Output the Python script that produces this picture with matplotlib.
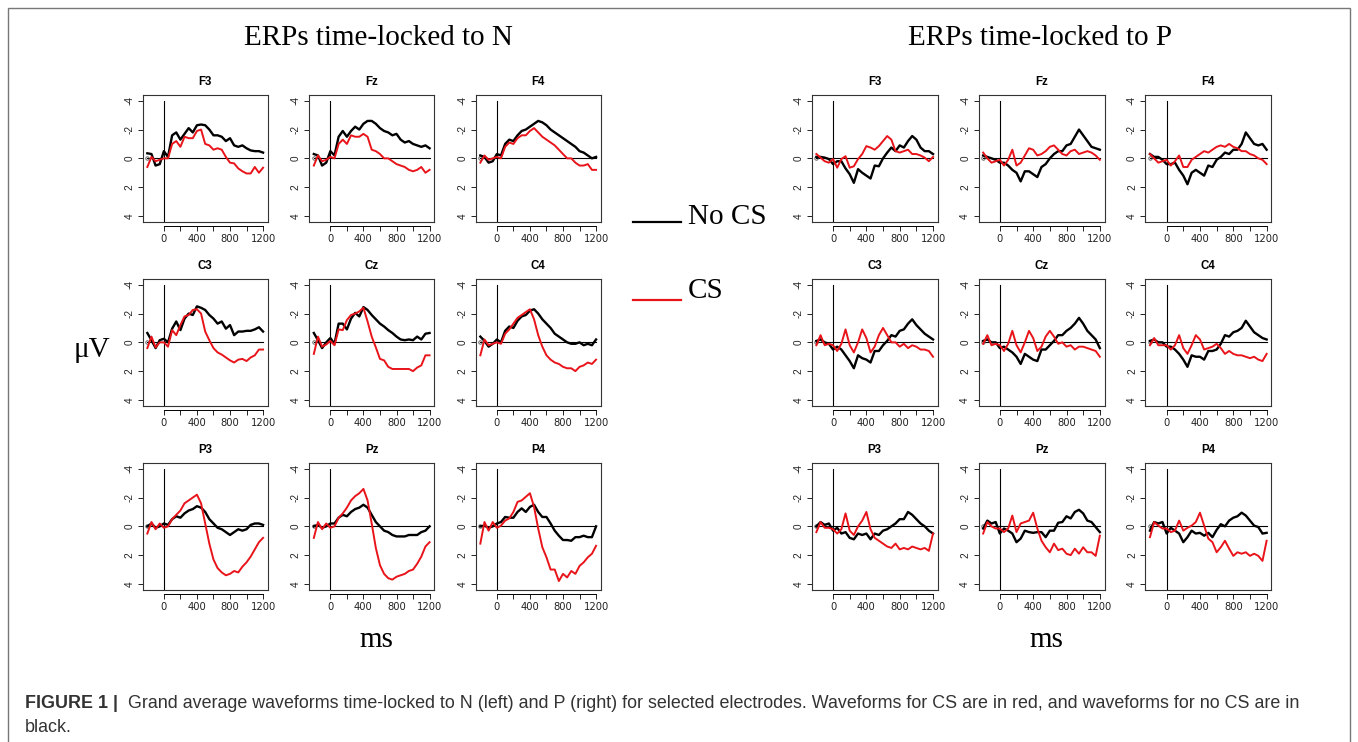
import matplotlib
matplotlib.use("Agg")
import matplotlib.pyplot as plt
from matplotlib.patches import Rectangle

W, H = 1358, 742

# time points (ms)
t_ms = [-200, -150, -100, -50, 0, 50, 100, 150, 200, 250, 300, 350, 400, 450, 500,
        550, 600, 650, 700, 750, 800, 850, 900, 950, 1000, 1050, 1100, 1150, 1200]

# ---- ERPs time-locked to N (uV, negative up) ----
n_f3_nocs = [-0.35, -0.3, 0.5, 0.4, -0.5, -0.1, -1.6, -1.8, -1.3, -1.7, -2.1, -1.8, -2.3, -2.35, -2.3, -2.0, -1.6, -1.6, -1.5, -1.2, -1.4, -0.9, -0.8, -0.9, -0.7, -0.55, -0.5, -0.5, -0.4]
n_f3_cs = [0.6, -0.1, 0.2, 0.1, 0.0, 0.0, -1.0, -1.2, -0.8, -1.5, -1.4, -1.4, -1.9, -2.0, -1.0, -0.9, -0.6, -0.7, -0.6, -0.1, 0.3, 0.35, 0.7, 0.9, 1.05, 1.05, 0.6, 1.0, 0.65]
n_fz_nocs = [-0.3, -0.2, 0.5, 0.3, -0.5, -0.2, -1.5, -1.9, -1.5, -1.9, -2.2, -2.0, -2.4, -2.6, -2.6, -2.4, -2.1, -1.9, -1.8, -1.6, -1.7, -1.3, -1.1, -1.2, -1.0, -0.9, -0.8, -0.9, -0.7]
n_fz_cs = [0.5, -0.2, 0.2, 0.1, -0.1, 0.0, -1.0, -1.3, -1.0, -1.6, -1.5, -1.5, -1.7, -1.5, -0.6, -0.5, -0.3, 0.0, 0.0, 0.2, 0.4, 0.5, 0.6, 0.8, 0.9, 0.8, 0.6, 1.0, 0.8]
n_f4_nocs = [-0.2, -0.1, 0.3, 0.2, -0.3, -0.2, -1.0, -1.3, -1.2, -1.6, -1.9, -2.0, -2.2, -2.4, -2.6, -2.5, -2.3, -2.0, -1.8, -1.6, -1.4, -1.2, -1.0, -0.8, -0.5, -0.4, -0.2, 0.0, -0.1]
n_f4_cs = [0.3, -0.2, 0.1, 0.0, -0.1, 0.0, -0.8, -1.1, -1.0, -1.4, -1.6, -1.6, -1.9, -2.1, -1.8, -1.5, -1.3, -1.1, -0.9, -0.6, -0.3, 0.0, 0.0, 0.3, 0.5, 0.5, 0.4, 0.8, 0.8]
n_c3_nocs = [-0.65, -0.15, 0.4, -0.15, -0.25, 0.0, -0.95, -1.45, -0.85, -1.65, -2.0, -1.9, -2.5, -2.4, -2.25, -1.9, -1.65, -1.3, -1.45, -0.95, -1.2, -0.5, -0.75, -0.75, -0.8, -0.8, -0.9, -1.05, -0.75]
n_c3_cs = [0.4, -0.4, 0.35, 0.0, 0.0, 0.3, -0.85, -0.5, -1.2, -1.8, -1.9, -2.25, -2.3, -2.0, -0.75, -0.15, 0.4, 0.7, 0.85, 1.05, 1.25, 1.4, 1.2, 1.15, 1.3, 1.05, 0.9, 0.5, 0.5]
n_cz_nocs = [-0.65, -0.15, 0.4, 0.0, -0.3, 0.1, -1.3, -1.3, -0.9, -1.65, -2.05, -1.8, -2.45, -2.25, -1.9, -1.6, -1.3, -1.1, -0.85, -0.65, -0.4, -0.2, -0.15, -0.2, -0.15, -0.4, -0.2, -0.6, -0.65]
n_cz_cs = [0.8, -0.4, 0.3, 0.15, -0.1, 0.2, -0.9, -0.85, -1.55, -1.9, -2.0, -2.15, -2.4, -1.45, -0.4, 0.35, 1.15, 1.25, 1.7, 1.85, 1.85, 1.85, 1.85, 1.85, 2.0, 1.75, 1.6, 0.9, 0.9]
n_c4_nocs = [-0.4, -0.1, 0.3, 0.1, -0.2, 0.0, -0.8, -1.1, -1.0, -1.5, -1.8, -1.9, -2.2, -2.3, -2.0, -1.6, -1.3, -1.0, -0.6, -0.4, -0.2, 0.0, 0.1, 0.1, 0.0, 0.2, 0.1, 0.2, -0.2]
n_c4_cs = [0.9, -0.2, 0.2, 0.1, 0.0, 0.1, -0.6, -0.9, -1.3, -1.7, -1.9, -2.1, -2.3, -1.6, -0.5, 0.3, 0.9, 1.2, 1.4, 1.5, 1.7, 1.8, 1.8, 2.0, 1.7, 1.6, 1.4, 1.5, 1.2]
n_p3_nocs = [0.0, -0.2, 0.1, 0.0, -0.2, -0.1, -0.5, -0.7, -0.6, -0.9, -1.1, -1.2, -1.4, -1.3, -1.0, -0.5, -0.2, 0.1, 0.2, 0.4, 0.6, 0.4, 0.2, 0.3, 0.2, -0.1, -0.2, -0.2, -0.1]
n_p3_cs = [0.5, -0.3, 0.2, -0.2, 0.1, 0.0, -0.5, -0.8, -1.1, -1.6, -1.8, -2.0, -2.2, -1.6, -0.2, 1.2, 2.3, 2.9, 3.2, 3.4, 3.3, 3.1, 3.2, 2.8, 2.5, 2.1, 1.6, 1.1, 0.8]
n_pz_nocs = [0.0, -0.1, 0.1, 0.0, -0.2, -0.2, -0.6, -0.8, -0.7, -1.0, -1.2, -1.3, -1.5, -1.3, -0.8, -0.3, 0.0, 0.3, 0.4, 0.6, 0.7, 0.7, 0.7, 0.6, 0.6, 0.6, 0.4, 0.3, 0.0]
n_pz_cs = [0.8, -0.3, 0.2, -0.2, 0.1, 0.0, -0.6, -0.9, -1.3, -1.8, -2.1, -2.3, -2.6, -1.8, -0.2, 1.5, 2.7, 3.3, 3.6, 3.7, 3.5, 3.4, 3.3, 3.1, 3.0, 2.6, 2.1, 1.4, 1.1]
n_p4_nocs = [0.0, -0.05, 0.1, 0.0, -0.2, -0.3, -0.65, -0.6, -0.6, -1.0, -1.25, -1.0, -1.35, -1.5, -1.0, -0.65, -0.65, -0.2, 0.3, 0.65, 0.95, 0.95, 1.0, 0.75, 0.75, 0.65, 0.75, 0.75, 0.0]
n_p4_cs = [1.2, -0.3, 0.3, -0.3, 0.1, -0.05, -0.4, -0.55, -1.0, -1.7, -1.8, -2.05, -2.3, -1.35, 0.15, 1.45, 2.15, 3.0, 3.0, 3.8, 3.3, 3.55, 3.1, 3.3, 2.75, 2.5, 2.15, 1.9, 1.35]

# ---- ERPs time-locked to P ----
p_f3_nocs = [-0.1, -0.1, -0.05, 0.05, 0.4, 0.2, 0.2, 0.7, 1.1, 1.7, 0.75, 1.0, 1.2, 1.4, 0.5, 0.55, 0.0, -0.4, -0.75, -0.5, -0.9, -0.75, -1.2, -1.55, -1.3, -0.75, -0.5, -0.5, -0.3]
p_f3_cs = [-0.3, -0.05, 0.2, 0.3, 0.05, 0.65, 0.05, -0.15, 0.65, 0.55, 0.05, -0.3, -0.85, -0.75, -0.6, -0.85, -1.2, -1.55, -1.3, -0.5, -0.4, -0.5, -0.6, -0.3, -0.3, -0.2, -0.05, 0.2, -0.1]
p_fz_nocs = [-0.2, -0.1, 0.0, 0.1, 0.3, 0.3, 0.5, 0.8, 1.0, 1.6, 0.9, 0.9, 1.1, 1.3, 0.6, 0.4, 0.0, -0.3, -0.5, -0.5, -0.9, -1.0, -1.5, -2.0, -1.6, -1.2, -0.8, -0.7, -0.6]
p_fz_cs = [-0.4, 0.0, 0.3, 0.2, 0.1, 0.5, 0.1, -0.6, 0.5, 0.3, -0.2, -0.7, -0.6, -0.2, -0.3, -0.5, -0.8, -0.9, -0.6, -0.3, -0.2, -0.5, -0.6, -0.3, -0.4, -0.5, -0.4, -0.2, 0.1]
p_f4_nocs = [-0.3, -0.1, -0.1, 0.1, 0.4, 0.4, 0.3, 0.8, 1.2, 1.8, 1.0, 0.8, 1.0, 1.2, 0.5, 0.6, 0.1, -0.1, -0.4, -0.3, -0.6, -0.6, -1.0, -1.8, -1.4, -1.0, -0.9, -1.0, -0.6]
p_f4_cs = [-0.3, 0.0, 0.3, 0.2, 0.1, 0.5, 0.2, -0.2, 0.6, 0.6, 0.1, -0.1, -0.3, -0.5, -0.4, -0.6, -0.8, -0.9, -0.8, -1.0, -0.8, -0.7, -0.5, -0.5, -0.3, -0.2, 0.0, 0.1, 0.4]
p_c3_nocs = [-0.1, -0.2, 0.0, 0.1, 0.5, 0.3, 0.5, 0.9, 1.3, 1.8, 0.9, 1.1, 1.2, 1.4, 0.6, 0.6, 0.2, -0.1, -0.5, -0.4, -0.8, -0.9, -1.3, -1.6, -1.2, -0.9, -0.6, -0.4, -0.2]
p_c3_cs = [0.2, -0.5, 0.2, 0.1, 0.2, 0.6, 0.1, -0.9, 0.2, 0.7, 0.0, -0.9, -0.3, 0.7, 0.3, -0.5, -1.0, -0.5, 0.0, 0.0, 0.3, 0.1, 0.4, 0.2, 0.3, 0.5, 0.5, 0.6, 1.0]
p_cz_nocs = [-0.1, -0.2, 0.0, 0.0, 0.4, 0.3, 0.5, 0.7, 1.0, 1.5, 0.8, 1.0, 1.2, 1.3, 0.5, 0.5, 0.2, -0.1, -0.5, -0.5, -0.8, -1.0, -1.3, -1.7, -1.3, -0.8, -0.5, -0.2, 0.4]
p_cz_cs = [0.1, -0.5, 0.2, 0.1, 0.2, 0.6, 0.1, -0.8, 0.2, 0.7, 0.0, -0.8, -0.3, 0.6, 0.3, -0.4, -0.8, -0.4, 0.1, 0.0, 0.3, 0.2, 0.5, 0.3, 0.3, 0.4, 0.5, 0.6, 1.0]
p_c4_nocs = [-0.1, -0.2, 0.0, 0.0, 0.3, 0.3, 0.5, 0.8, 1.2, 1.7, 0.9, 1.0, 1.0, 1.2, 0.6, 0.6, 0.5, 0.1, -0.5, -0.4, -0.7, -0.8, -1.0, -1.5, -1.1, -0.7, -0.5, -0.3, -0.2]
p_c4_cs = [0.2, -0.3, 0.2, 0.2, 0.2, 0.5, 0.2, -0.5, 0.4, 0.8, 0.2, -0.5, -0.2, 0.5, 0.4, 0.3, 0.1, 0.4, 0.8, 0.6, 0.8, 0.9, 0.9, 1.0, 1.1, 1.0, 1.2, 1.3, 0.8]
p_p3_nocs = [0.0, -0.3, -0.1, -0.2, 0.3, 0.1, 0.5, 0.4, 0.8, 0.9, 0.5, 0.6, 0.5, 0.9, 0.5, 0.6, 0.3, 0.2, 0.0, -0.2, -0.5, -0.5, -1.0, -0.8, -0.5, -0.2, 0.0, 0.3, 0.5]
p_p3_cs = [0.4, -0.3, 0.1, 0.1, 0.2, 0.5, 0.2, -0.9, 0.3, 0.6, 0.0, -0.4, -1.0, 0.2, 0.8, 1.0, 1.2, 1.4, 1.5, 1.2, 1.6, 1.5, 1.6, 1.4, 1.5, 1.6, 1.5, 1.7, 0.5]
p_pz_nocs = [0.15, -0.4, -0.2, -0.3, 0.5, 0.15, 0.3, 0.5, 1.1, 0.85, 0.3, 0.4, 0.45, 0.4, 0.4, 0.75, 0.3, 0.3, -0.25, -0.3, -0.7, -0.55, -1.0, -1.15, -0.9, -0.4, -0.3, 0.05, 0.4]
p_pz_cs = [0.5, -0.3, 0.0, 0.15, 0.15, 0.4, 0.15, -0.75, 0.4, -0.2, -0.3, -0.4, -0.95, 0.15, 1.0, 1.45, 1.8, 1.2, 1.65, 1.55, 1.9, 2.0, 1.55, 1.9, 1.45, 1.8, 1.8, 2.05, 0.65]
p_p4_nocs = [0.3, -0.3, -0.2, -0.3, 0.5, 0.1, 0.3, 0.5, 1.1, 0.75, 0.3, 0.5, 0.45, 0.65, 0.45, 0.75, 0.25, -0.15, 0.0, -0.4, -0.6, -0.7, -0.95, -0.75, -0.4, -0.05, 0.05, 0.5, 0.45]
p_p4_cs = [0.75, -0.3, -0.05, 0.15, 0.15, 0.4, 0.3, -0.4, 0.3, 0.1, -0.05, -0.3, -0.95, -0.05, 0.85, 1.1, 1.8, 1.45, 1.0, 1.55, 2.05, 1.8, 1.9, 1.8, 2.05, 1.9, 2.05, 2.4, 1.0]

electrodes = [["F3", "Fz", "F4"], ["C3", "Cz", "C4"], ["P3", "Pz", "P4"]]

n_data = {
    "F3": (n_f3_nocs, n_f3_cs), "Fz": (n_fz_nocs, n_fz_cs), "F4": (n_f4_nocs, n_f4_cs),
    "C3": (n_c3_nocs, n_c3_cs), "Cz": (n_cz_nocs, n_cz_cs), "C4": (n_c4_nocs, n_c4_cs),
    "P3": (n_p3_nocs, n_p3_cs), "Pz": (n_pz_nocs, n_pz_cs), "P4": (n_p4_nocs, n_p4_cs),
}
p_data = {
    "F3": (p_f3_nocs, p_f3_cs), "Fz": (p_fz_nocs, p_fz_cs), "F4": (p_f4_nocs, p_f4_cs),
    "C3": (p_c3_nocs, p_c3_cs), "Cz": (p_cz_nocs, p_cz_cs), "C4": (p_c4_nocs, p_c4_cs),
    "P3": (p_p3_nocs, p_p3_cs), "Pz": (p_pz_nocs, p_pz_cs), "P4": (p_p4_nocs, p_p4_cs),
}

SERIF = "Liberation Serif"
SANS = "Liberation Sans"


def px_rect(left, top, w, h):
    return [left / W, 1 - (top + h) / H, w / W, h / H]


def erp_panel(fig, rect, name, nocs, cs):
    ax = fig.add_axes(rect)
    ax.plot(t_ms, nocs, color="black", lw=1.7, zorder=3)
    ax.plot(t_ms, cs, color="#e8141a", lw=1.4, zorder=4)
    ax.plot([-200, 1200], [0, 0], color="black", lw=0.8, zorder=2)
    ax.plot([-200], [0], marker="o", ms=2.5, mfc="none", mec="#555555", mew=0.6)
    ax.plot([0, 0], [-4, 4.4], color="black", lw=0.8, zorder=2)
    ax.set_xlim(-256, 1256)
    ax.set_ylim(4.4, -4.4)

    ax.set_xticks([0, 200, 400, 600, 800, 1000, 1200])
    ax.set_xticklabels(["0", "", "400", "", "800", "", "1200"])
    ax.set_yticks([-4, -2, 0, 2, 4])
    ax.set_yticklabels(["-4", "-2", "0", "2", "4"], rotation=90, va="center")
    ax.tick_params(axis="both", labelsize=7.2, length=3.5, width=0.7, pad=2.5,
                   colors="#222222")
    for lab in ax.get_xticklabels() + ax.get_yticklabels():
        lab.set_family(SANS)

    for s in ["left", "top", "right"]:
        ax.spines[s].set_linewidth(0.8)
        ax.spines[s].set_color("#333333")
    ax.spines["bottom"].set_position(("outward", 3))
    ax.spines["bottom"].set_bounds(0, 1200)
    ax.spines["bottom"].set_linewidth(0.7)
    ax.plot([0, 1], [0, 0], transform=ax.transAxes, color="#333333",
            lw=0.8, clip_on=False)
    ax.set_title(name, fontsize=8.3, fontweight="bold", family=SANS, pad=7)
    return ax


fig = plt.figure(figsize=(W / 100, H / 100), dpi=100)

# frame around the figure
fig.patches.append(Rectangle((8 / W, -0.05), (1350 - 8) / W, 1 - 8 / H + 0.05,
                             transform=fig.transFigure, fill=False,
                             edgecolor="#777777", lw=1))

left_cols = [142.7, 309.2, 475.7]
right_cols = [811.7, 978.5, 1145.3]
row_tops = [95, 279, 463]
box_w, box_h = 125, 126.7

for r, row in enumerate(electrodes):
    for c, name in enumerate(row):
        nocs, cs = n_data[name]
        erp_panel(fig, px_rect(left_cols[c], row_tops[r], box_w, box_h), name, nocs, cs)
        nocs, cs = p_data[name]
        erp_panel(fig, px_rect(right_cols[c], row_tops[r], box_w + 1, box_h), name, nocs, cs)

fig.text(378 / W, 1 - 38 / H, "ERPs time-locked to N", ha="center", va="center",
         fontsize=21, family=SERIF)
fig.text(1040 / W, 1 - 38 / H, "ERPs time-locked to P", ha="center", va="center",
         fontsize=21, family=SERIF)
fig.text(92 / W, 1 - 350 / H, "\u03bcV", ha="center", va="center",
         fontsize=21, family=SERIF)
fig.text(376 / W, 1 - 640 / H, "ms", ha="center", va="center", fontsize=21, family=SERIF)
fig.text(1046 / W, 1 - 640 / H, "ms", ha="center", va="center", fontsize=21, family=SERIF)

# legend
fig.add_artist(plt.Line2D([633 / W, 681 / W], [1 - 222 / H, 1 - 222 / H],
                          color="black", lw=1.6))
fig.text(688 / W, 1 - 217 / H, "No CS", ha="left", va="center", fontsize=21, family=SERIF)
fig.add_artist(plt.Line2D([633 / W, 681 / W], [1 - 300 / H, 1 - 300 / H],
                          color="#e8141a", lw=1.6))
fig.text(688 / W, 1 - 291 / H, "CS", ha="left", va="center", fontsize=21, family=SERIF)

# caption
fig.text(25 / W, 1 - 703 / H, "FIGURE 1 |", ha="left", va="center", fontsize=12.9,
         fontweight="bold", family=SANS, color="#333333")
fig.text(128 / W, 1 - 703 / H,
         "Grand average waveforms time-locked to N (left) and P (right) for selected "
         "electrodes. Waveforms for CS are in red, and waveforms for no CS are in",
         ha="left", va="center", fontsize=12.9, family=SANS, color="#333333")
fig.text(25 / W, 1 - 728 / H, "black.", ha="left", va="center", fontsize=12.9,
         family=SANS, color="#333333")

fig.savefig("out.png", dpi=100)
